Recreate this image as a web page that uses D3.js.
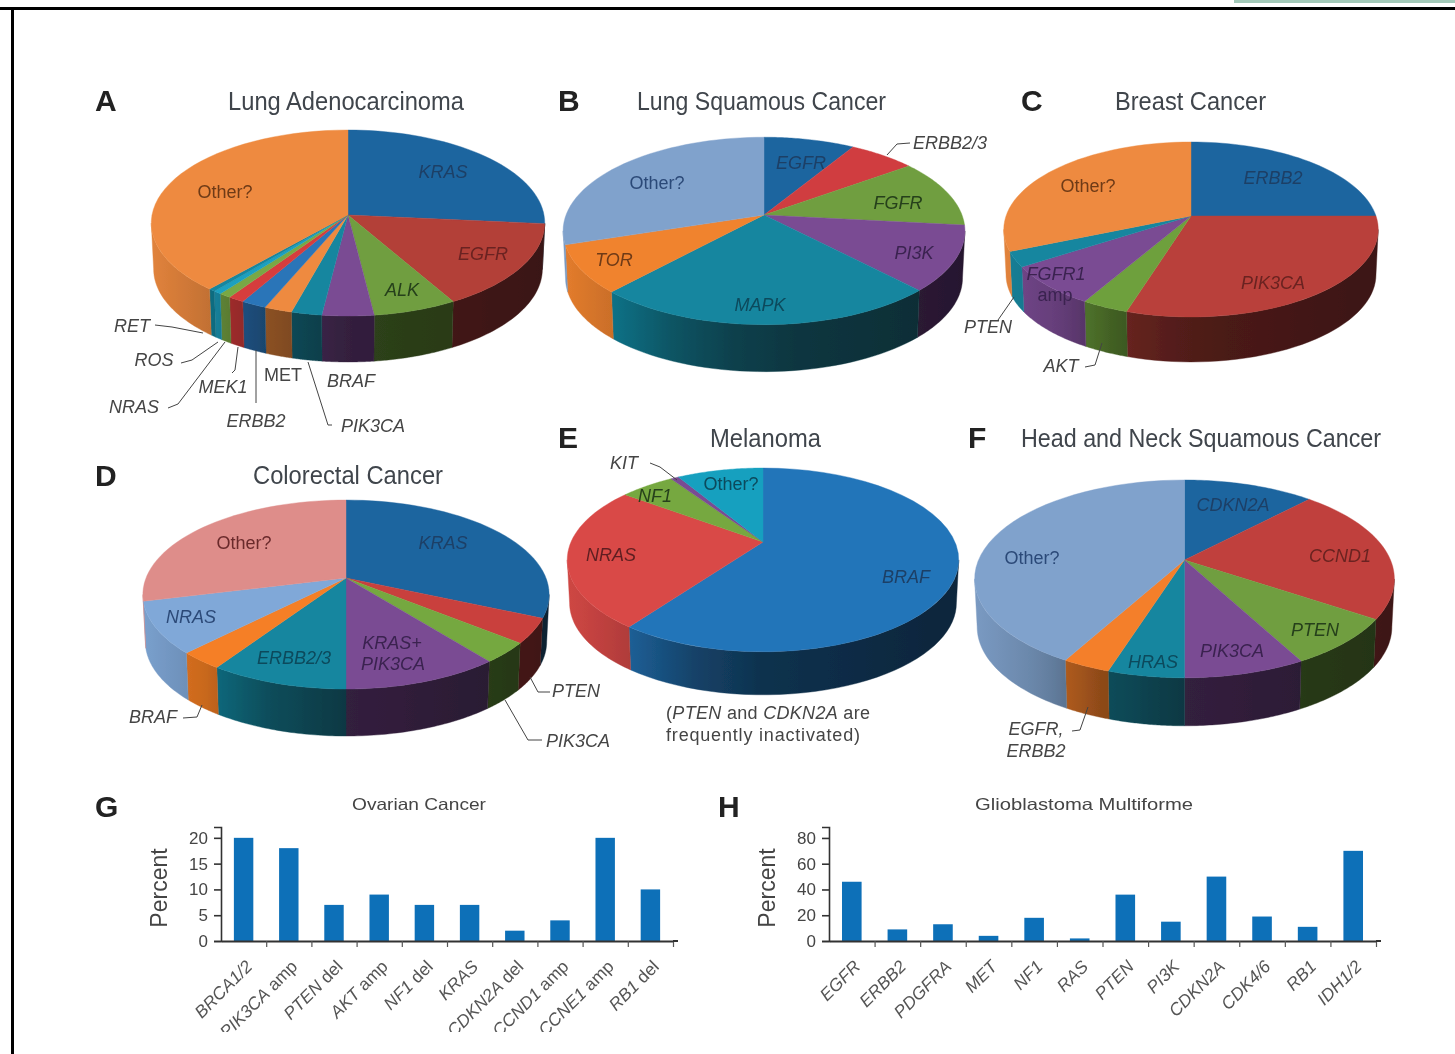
<!DOCTYPE html>
<html><head><meta charset="utf-8">
<script src="https://cdn.jsdelivr.net/npm/d3@7"></script>
<style>html,body{margin:0;padding:0;background:#fff}svg{display:block}
text{font-family:"Liberation Sans",Arial,sans-serif}</style></head>
<body><svg id="c" width="1455" height="1054"></svg>
<script>
// ---------- data ----------
const lungAdenoNames = ["KRAS","EGFR","ALK","BRAF","PIK3CA","MET","ERBB2","MEK1","NRAS","ROS","RET","Other?"];
const lungAdenoValues = [26.4,15.2,6.3,3.9,2.3,2.1,1.9,1.2,0.9,0.6,0.5,38.4];
const lungSqNames = ["EGFR","ERBB2/3","FGFR","PI3K","MAPK","TOR","Other?"];
const lungSqValues = [8.6,6.3,11.8,11.2,23.8,8.2,30];
const breastNames = ["ERBB2","PIK3CA","AKT","FGFR1 amp","PTEN","Other?"];
const breastValues = [25,29.8,3.5,7.5,2.8,31.4];
const colorectalNames = ["KRAS","PTEN","PIK3CA","KRAS+PIK3CA","ERBB2/3","BRAF","NRAS","Other?"];
const colorectalValues = [31.7,4.2,3.5,10.6,9.3,3,8.8,28.9];
const melanomaNames = ["BRAF","NRAS","NF1","KIT","Other?"];
const melanomaValues = [60,25.2,5.4,0.8,8.6];
const headNeckNames = ["CDKN2A","CCND1","PTEN","PIK3CA","HRAS","EGFR, ERBB2","Other?"];
const headNeckValues = [12.1,22.3,7.8,7.8,4.9,3.1,42];
const ovarianLabels = ["BRCA1/2","PIK3CA amp","PTEN del","AKT amp","NF1 del","KRAS","CDKN2A del","CCND1 amp","CCNE1 amp","RB1 del"];
const ovarianValues = [20,18,7,9,7,7,2,4,20,10];
const ovarianTicks = [0,5,10,15,20];
const gbmLabels = ["EGFR","ERBB2","PDGFRA","MET","NF1","RAS","PTEN","PI3K","CDKN2A","CDK4/6","RB1","IDH1/2"];
const gbmValues = [46,9,13,4,18,2,36,15,50,19,11,70];
const gbmTicks = [0,20,40,60,80];

// ---------- colours ----------
const blue="#1f659f",red="#b33f38",green="#6f9e3f",purple="#7a4b93",teal="#14869f",orange="#ee8a3f",lblue="#80a2cc",pink="#de8d8a";
const lungAdenoColors=[blue,red,green,purple,teal,orange,"#2a74b8","#d63c3c","#79a844","#1aa0c0",teal,orange];
const lungSqColors=[blue,"#d03d3f",green,purple,teal,"#f0832f",lblue];
const breastColors=[blue,"#b9403a","#6ea03c",purple,teal,orange];
const colorectalColors=[blue,"#c9403c","#74a83f",purple,teal,"#f57f25","#80a8d8",pink];
const melanomaColors=["#2475b9","#d94a47","#76a83f",purple,"#14a0bf"];
const headNeckColors=[blue,"#c0403c",green,purple,teal,"#f47f2a",lblue];

// ---------- layout ----------
const pies=[
 {id:"A",values:lungAdenoValues,colors:lungAdenoColors,cx:348,cy:215,s:196,ys:92.3,k:.086,depth:46},
 {id:"B",values:lungSqValues,colors:lungSqColors,cx:764,cy:215,s:198,ys:91,k:.17,depth:47},
 {id:"C",values:breastValues,colors:breastColors,cx:1191,cy:216,s:185,ys:85.4,k:.154,depth:45},
 {id:"D",values:colorectalValues,colors:colorectalColors,cx:346,cy:578,s:200,ys:91.6,k:.175,depth:47},
 {id:"E",values:melanomaValues,colors:melanomaColors,cx:763,cy:542,s:192,ys:88.4,k:.195,depth:43},
 {id:"F",values:headNeckValues,colors:headNeckColors,cx:1184.5,cy:560,s:206,ys:95.3,k:.191,depth:48}
];
const letters=[["A",95,111],["B",558,111],["C",1021,111],["D",95,486],["E",558,448],["F",968,448],["G",95,817],["H",718,817]];
const titles=[["Lung Adenocarcinoma",228,236,110],["Lung Squamous Cancer",637,249,110],["Breast Cancer",1115,151,110],
 ["Colorectal Cancer",253,190,484],["Melanoma",710,111,447],["Head and Neck Squamous Cancer",1021,360,447]];
const darkBlue="#1d3f66",darkRed="#6a2320",darkGreen="#253f1a",darkPurple="#3a2350",darkTeal="#0f4a5c",darkOrange="#6e3a18",outer="#444";
const labels=[
 ["KRAS",443,178,darkBlue,1],["EGFR",483,260,darkRed,1],["ALK",402,296,darkGreen,1],["Other?",225,198,darkOrange,0],
 ["RET",132,332,outer,1],["ROS",154,366,outer,1],["MEK1",223,393,outer,1],["NRAS",134,413,outer,1],["ERBB2",256,427,outer,1],
 ["MET",283,381,outer,0],["BRAF",351,387,outer,1],["PIK3CA",373,432,outer,1],
 ["EGFR",801,169,darkBlue,1],["ERBB2/3",950,149,outer,1],["FGFR",898,209,darkGreen,1],["PI3K",914,259,darkPurple,1],
 ["MAPK",760,311,darkTeal,1],["TOR",614,266,darkOrange,1],["Other?",657,189,"#2c4a78",0],
 ["ERBB2",1273,184,darkBlue,1],["PIK3CA",1273,289,darkRed,1],["FGFR1",1056,280,darkPurple,1],["amp",1055,301,darkPurple,0],
 ["Other?",1088,192,darkOrange,0],["PTEN",988,333,outer,1],["AKT",1061,372,outer,1],
 ["KRAS",443,549,darkBlue,1],["Other?",244,549,"#6a2a2c",0],["NRAS",191,623,"#2c4a78",1],["ERBB2/3",294,664,darkTeal,1],
 ["KRAS+",392,649,darkPurple,1],["PIK3CA",393,670,darkPurple,1],["BRAF",153,723,outer,1],["PTEN",576,697,outer,1],["PIK3CA",578,747,outer,1],
 ["KIT",624,469,outer,1],["NF1",655,502,darkGreen,1],["Other?",731,490,darkTeal,0],["NRAS",611,561,"#5e1f20",1],["BRAF",906,583,darkBlue,1],
 ["CDKN2A",1233,511,darkBlue,1],["CCND1",1340,562,darkRed,1],["PTEN",1315,636,darkGreen,1],["PIK3CA",1232,657,darkPurple,1],
 ["HRAS",1153,668,darkTeal,1],["Other?",1032,564,"#2c4a78",0],["EGFR,",1036,735,outer,1],["ERBB2",1036,757,outer,1]
];
const leaders=[
 [[155,325],[172,327],[203,333]],[[181,363],[192,360],[218,342]],[[168,408],[178,404],[225,342]],[[232,373],[235,370],[238,347]],
 [[256,403],[256,350]],[[308,362],[328,425],[332,425]],
 [[887,155],[897,144],[910,143]],[[1014,297],[998,320]],[[1085,367],[1095,365],[1102,343]],
 [[183,718],[197,717],[202,705]],[[530,677],[538,692],[550,692]],[[505,700],[528,740],[542,740]],
 [[650,463],[660,467],[677,480]],[[1072,731],[1080,730],[1088,707]]
];

// ---------- drawing ----------
const svg=d3.select("#c");
const defs=svg.append("defs");
defs.append("filter").attr("id","soft").attr("x",0).attr("y",0).attr("width",1).attr("height",1)
  .attr("filterUnits","objectBoundingBox")
  .append("feGaussianBlur").attr("stdDeviation",0.75);
defs.append("clipPath").attr("id","ovClip").append("rect").attr("x",100).attr("y",780).attr("width",620).attr("height",252);

svg.append("rect").attr("width",1455).attr("height",1054).attr("fill","#fff");
svg.append("rect").attr("x",1234).attr("y",0).attr("width",221).attr("height",3).attr("fill","#a3c9b9");
svg.append("rect").attr("x",0).attr("y",7).attr("width",1455).attr("height",3).attr("fill","#000");
svg.append("rect").attr("x",11).attr("y",7).attr("width",3).attr("height",1047).attr("fill","#000");
const root=svg.append("g").attr("filter","url(#soft)");
root.append("rect").attr("x",15).attr("y",11).attr("width",1440).attr("height",1043).attr("fill","#fff");

const pieGen=d3.pie().sort(null).value(d=>d);
const line=d3.line();
const shadeScale=d3.scaleLinear().domain([0,.15,.3,.5,1]).range([.05,.18,.42,.58,.68]).clamp(true);

pies.forEach(p=>{
  const rim=(a,h=0)=>{const u=Math.sin(a),v=-Math.cos(a),w=1-p.k*v;
    return [p.cx+p.s*u/w*(1-h*.012), p.cy+p.ys*v/w+h*p.depth];};
  const samples=(a0,a1,h=0)=>d3.range(0,41).map(i=>rim(a0+(a1-a0)*i/40,h));
  const arcs=pieGen(p.values);
  const g=root.append("g");
  const margin=Math.asin(p.k);
  const visLo=Math.PI/2+margin, visHi=3*Math.PI/2-margin;
  const x0=p.cx-p.s*1.01, x1=p.cx+p.s*1.01;
  arcs.forEach((d,i)=>{
    const a0=Math.max(d.startAngle,visLo),a1=Math.min(d.endAngle,visHi);
    if(a1<=a0) return;
    const top=samples(a0,a1,0),bot=samples(a1,a0,1);
    const xs=top.concat(bot).map(q=>q[0]);
    const xa=d3.min(xs),xb=d3.max(xs),id=`w${p.id}${i}`;
    const grad=defs.append("linearGradient").attr("id",id).attr("gradientUnits","userSpaceOnUse")
      .attr("x1",xa).attr("x2",xb).attr("y1",0).attr("y2",0);
    d3.range(0,6).forEach(j=>{
      const x=xa+(xb-xa)*j/5,f=(x-x0)/(x1-x0);
      grad.append("stop").attr("offset",j/5).attr("stop-color",d3.interpolateRgb(p.colors[i],"#000")(shadeScale(f)));
    });
    g.append("path").attr("d",line(top.concat(bot))+"Z").attr("fill",`url(#${id})`).attr("stroke",`url(#${id})`).attr("stroke-width",.4);
  });
  arcs.forEach((d,i)=>{
    g.append("path").attr("d",line([[p.cx,p.cy]].concat(samples(d.startAngle,d.endAngle)))+"Z")
     .attr("fill",p.colors[i]).attr("stroke",p.colors[i]).attr("stroke-width",.4);
  });
});

leaders.forEach(pts=>{
  root.append("path").attr("d",d3.line().curve(d3.curveLinear)(pts)).attr("fill","none").attr("stroke","#444").attr("stroke-width",1);
});
letters.forEach(([t,x,y])=>root.append("text").text(t).attr("x",x).attr("y",y).attr("font-size",30).attr("font-weight","bold").attr("fill","#222"));
titles.forEach(([t,x,w,y])=>root.append("text").text(t).attr("x",x).attr("y",y).attr("font-size",26)
  .attr("textLength",w).attr("lengthAdjust","spacingAndGlyphs").attr("fill","#3f454c")
  .style("font-family","'Liberation Sans Narrow','Liberation Sans',sans-serif"));
labels.forEach(([t,x,y,c,it])=>root.append("text").text(t).attr("x",x).attr("y",y).attr("text-anchor","middle")
  .attr("font-size",18).attr("font-style",it?"italic":"normal").attr("fill",c));

// note under melanoma
const note=root.append("g").attr("fill","#444").attr("font-size",18);
const n1=note.append("text").attr("x",666).attr("y",719).attr("textLength",204).attr("lengthAdjust","spacing");
n1.append("tspan").text("(");n1.append("tspan").text("PTEN").attr("font-style","italic");
n1.append("tspan").text(" and ");n1.append("tspan").text("CDKN2A").attr("font-style","italic");n1.append("tspan").text(" are");
note.append("text").attr("x",666).attr("y",741).attr("textLength",194).attr("lengthAdjust","spacing").text("frequently inactivated)");

// bar charts
function barChart(o){
  const g=root.append("g").attr("clip-path",o.clip?`url(#${o.clip})`:null);
  const n=o.labels.length;
  const x=d3.scaleBand().domain(o.labels).range([o.x0,o.x1]).paddingInner(.57).paddingOuter(.285);
  const xTicks=d3.scaleLinear().domain([0,n]).range([o.x0,o.x1]);
  const y=d3.scaleLinear().domain([0,o.yMax]).range([941,827]);
  g.selectAll("rect.bar").data(o.values).join("rect").attr("class","bar")
    .attr("x",(d,i)=>x(o.labels[i])).attr("width",x.bandwidth()).attr("y",d=>y(d)).attr("height",d=>941-y(d)).attr("fill","#0f70b8");
  const yAxis=d3.axisLeft(y).tickValues(o.ticks).tickSize(7).tickPadding(6);
  const ya=g.append("g").attr("transform",`translate(${o.x0},0)`).call(yAxis);
  ya.selectAll("path,line").attr("stroke","#333").attr("stroke-width",1.6);
  ya.selectAll("text").attr("font-size",17).attr("fill","#444").style("font-family","'Liberation Sans',sans-serif");
  const xb=d3.axisBottom(xTicks).tickValues(d3.range(1,n+1)).tickFormat("").tickSize(6).tickSizeOuter(0);
  const xa=g.append("g").attr("transform","translate(0,941)").call(xb);
  xa.selectAll("line").attr("stroke","#555").attr("stroke-width",1.2);
  xa.select("path").attr("stroke","#333").attr("stroke-width",2);
  g.append("line").attr("x1",o.x1).attr("x2",o.x1+5).attr("y1",941).attr("y2",941).attr("stroke","#333").attr("stroke-width",2);
  const xl=d3.axisBottom(x).tickSize(0).tickPadding(0);
  const la=g.append("g").attr("transform","translate(0,941)").call(xl);
  la.select("path").remove();
  la.selectAll("text").each(function(d){
    const parts=String(d).split(" "), t=d3.select(this).text(null);
    t.append("tspan").attr("font-style","italic").text(parts[0]);
    if(parts[1]) t.append("tspan").text(" "+parts[1]);
  });
  la.selectAll("text").attr("font-size",17.5).attr("fill","#555").attr("text-anchor","end")
    .attr("transform","translate(1,18) rotate(-45)").attr("dy","0.7em").style("font-family","'Liberation Sans',sans-serif");
  root.append("text").text("Percent").attr("text-anchor","middle").attr("font-size",23).attr("fill","#444")
    .attr("transform",`translate(${o.px},888) rotate(-90)`).attr("dy",".35em");
  root.append("text").text(o.title).attr("x",o.tx).attr("y",810).attr("font-size",16.5).attr("fill","#444")
    .attr("textLength",o.tw).attr("lengthAdjust","spacingAndGlyphs");
}
barChart({labels:ovarianLabels,values:ovarianValues,ticks:ovarianTicks,yMax:22.1,x0:221,x1:673,px:159,title:"Ovarian Cancer",tx:352,tw:134,clip:"ovClip"});
barChart({labels:gbmLabels,values:gbmValues,ticks:gbmTicks,yMax:88.5,x0:829,x1:1376,px:767,title:"Glioblastoma Multiforme",tx:975,tw:218});
</script></body></html>
